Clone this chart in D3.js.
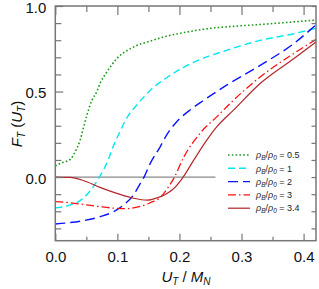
<!DOCTYPE html>
<html>
<head>
<meta charset="utf-8">
<script src="https://cdn.jsdelivr.net/npm/d3@7"></script>
<style>
  body { margin: 0; background: #fff; }
  svg { display: block; font-family: "Liberation Sans", Arial, Helvetica, sans-serif; }
</style>
</head>
<body>
<svg id="chart" width="319" height="289"></svg>
<script>
// curves, U_T/M_N -> F_T
const uGreen = [0, 0.008, 0.024, 0.032, 0.040, 0.045, 0.051, 0.059, 0.067, 0.072, 0.083, 0.099, 0.126, 0.153, 0.180, 0.212, 0.247, 0.290, 0.330, 0.380, 0.42];
const fGreen = [0.065, 0.08, 0.103, 0.148, 0.216, 0.284, 0.362, 0.449, 0.50, 0.547, 0.614, 0.692, 0.760, 0.795, 0.824, 0.848, 0.868, 0.882, 0.892, 0.906, 0.918];

const uCyan = [0, 0.024, 0.045, 0.061, 0.071, 0.085, 0.091, 0.104, 0.118, 0.131, 0.153, 0.180, 0.206, 0.233, 0.276, 0.330, 0.384, 0.42];
const fCyan = [-0.18, -0.163, -0.124, -0.057, 0.0, 0.099, 0.158, 0.264, 0.362, 0.42, 0.508, 0.582, 0.64, 0.687, 0.741, 0.799, 0.838, 0.87];

const uBlue = [0, 0.024, 0.045, 0.072, 0.094, 0.110, 0.126, 0.137, 0.143, 0.153, 0.169, 0.180, 0.196, 0.218, 0.239, 0.276, 0.330, 0.384, 0.42];
const fBlue = [-0.274, -0.266, -0.255, -0.232, -0.202, -0.163, -0.105, -0.037, 0.0, 0.08, 0.177, 0.25, 0.325, 0.395, 0.449, 0.537, 0.653, 0.78, 0.89];

const uRed = [0, 0.024, 0.045, 0.072, 0.099, 0.115, 0.126, 0.140, 0.153, 0.169, 0.180, 0.192, 0.206, 0.233, 0.260, 0.287, 0.330, 0.384, 0.42];
const fRed = [-0.144, -0.15, -0.16, -0.173, -0.183, -0.185, -0.18, -0.168, -0.15, -0.12, -0.07, 0.0, 0.11, 0.255, 0.352, 0.449, 0.585, 0.722, 0.805];

const uBrown = [0, 0.024, 0.045, 0.072, 0.099, 0.126, 0.148, 0.165, 0.178, 0.19, 0.206, 0.223, 0.244, 0.260, 0.287, 0.330, 0.384, 0.42];
const fBrown = [0.0, -0.002, -0.02, -0.06, -0.095, -0.124, -0.135, -0.12, -0.1, -0.07, 0.0, 0.099, 0.216, 0.293, 0.391, 0.547, 0.692, 0.79];

const ratios = ["0.5", "1", "2", "3", "3.4"];
const xTicks = [0, 0.1, 0.2, 0.3, 0.4];
const yTicks = [0, 0.5, 1.0];

const series = [
  {u: uGreen, f: fGreen, color: "#1f9a1f", width: 1.6, dash: "1.6,2.2"},
  {u: uCyan,  f: fCyan,  color: "#00e8f0", width: 1.4, dash: "7,4"},
  {u: uBlue,  f: fBlue,  color: "#0a14ff", width: 1.4, dash: "10,5"},
  {u: uRed,   f: fRed,   color: "#ff1010", width: 1.3, dash: "8,3,1.5,3"},
  {u: uBrown, f: fBrown, color: "#b4262a", width: 1.2, dash: null}
];

const svg = d3.select("#chart");
const pLeft = 55.3, pRight = 316, pTop = 6, pBottom = 240.7;
const axisColor = "#777";

const x = d3.scaleLinear().domain([0, 0.42]).range([pLeft, pRight]);
const y = d3.scaleLinear().domain([-0.372, 1.0]).range([pBottom, pTop]);

// zero line
svg.append("line")
  .attr("x1", x(0)).attr("x2", x(0.258))
  .attr("y1", y(0)).attr("y2", y(0))
  .attr("stroke", "#888").attr("stroke-width", 1.3);

// curves
const line = d3.line().x(d => x(d[0])).y(d => y(d[1])).curve(d3.curveMonotoneX);
series.forEach(s => {
  svg.append("path")
    .datum(s.u.map((u, i) => [u, s.f[i]]))
    .attr("d", line)
    .attr("fill", "none")
    .attr("stroke", s.color)
    .attr("stroke-width", s.width)
    .attr("stroke-dasharray", s.dash);
});

// axes helper: strip the domain path, color ticks
function styleAxis(g) {
  g.select(".domain").remove();
  g.selectAll("line").attr("stroke", axisColor).attr("stroke-width", 1.2);
  g.selectAll("text").attr("fill", "#111").style("font-size", "15px");
}

const minorX = d3.range(0, 0.42, 0.05).filter(v => Math.abs(v * 10 - Math.round(v * 10)) > 1e-6);
const minorY = d3.range(-0.3, 1.0, 0.1).map(v => +v.toFixed(1)).filter(v => v !== 0 && v !== 0.5);
const allY = d3.range(-0.3, 1.01, 0.1).map(v => +v.toFixed(1));

svg.append("g").attr("transform", `translate(0,${pBottom})`)
  .call(d3.axisBottom(x).tickValues(xTicks).tickSize(-7).tickPadding(10.6).tickFormat(d3.format(".1f")))
  .call(styleAxis);
svg.append("g").attr("transform", `translate(0,${pBottom})`)
  .call(d3.axisBottom(x).tickValues(minorX).tickSize(-4).tickFormat(""))
  .call(styleAxis);
svg.append("g").attr("transform", `translate(0,${pTop})`)
  .call(d3.axisTop(x).tickValues(xTicks).tickSize(-9).tickFormat(""))
  .call(styleAxis);
svg.append("g").attr("transform", `translate(0,${pTop})`)
  .call(d3.axisTop(x).tickValues(minorX).tickSize(-6).tickFormat(""))
  .call(styleAxis);

svg.append("g").attr("transform", `translate(${pLeft},0)`)
  .call(d3.axisLeft(y).tickValues(yTicks).tickSize(-8).tickPadding(9).tickFormat(d3.format(".1f")))
  .call(styleAxis)
  .call(g => g.selectAll("text").attr("dy", "0.42em"));
svg.append("g").attr("transform", `translate(${pLeft},0)`)
  .call(d3.axisLeft(y).tickValues(minorY).tickSize(-6).tickFormat(""))
  .call(styleAxis);
svg.append("g").attr("transform", `translate(${pRight},0)`)
  .call(d3.axisRight(y).tickValues(allY).tickSize(-4.5).tickFormat(""))
  .call(styleAxis);

// frame
svg.append("rect")
  .attr("x", pLeft).attr("y", pTop)
  .attr("width", pRight - pLeft).attr("height", pBottom - pTop)
  .attr("fill", "none").attr("stroke", axisColor).attr("stroke-width", 1.5);

// axis titles
const xt = svg.append("text")
  .attr("x", 186).attr("y", 282)
  .attr("text-anchor", "middle")
  .style("font-size", "15px").attr("fill", "#111");
xt.append("tspan").style("font-style", "italic").text("U");
xt.append("tspan").style("font-style", "italic").style("font-size", "10px").attr("dy", 3).text("T");
xt.append("tspan").attr("dy", -3).text(" / ");
xt.append("tspan").style("font-style", "italic").text("M");
xt.append("tspan").style("font-style", "italic").style("font-size", "10px").attr("dy", 3).text("N");

const yt = svg.append("text")
  .attr("transform", "translate(22,124) rotate(-90)")
  .attr("text-anchor", "middle")
  .style("font-size", "15px").attr("fill", "#111");
yt.append("tspan").style("font-style", "italic").text("F");
yt.append("tspan").style("font-style", "italic").style("font-size", "10px").attr("dy", 3).text("T");
yt.append("tspan").attr("dy", -3).text(" (");
yt.append("tspan").style("font-style", "italic").text("U");
yt.append("tspan").style("font-style", "italic").style("font-size", "10px").attr("dy", 3).text("T");
yt.append("tspan").attr("dy", -3).text(")");

// legend
const leg = svg.append("g");
series.forEach((s, i) => {
  const ly = 155 + i * 13.3;
  leg.append("line")
    .attr("x1", 228).attr("x2", 250).attr("y1", ly).attr("y2", ly)
    .attr("stroke", s.color).attr("stroke-width", s.width)
    .attr("stroke-dasharray", s.dash);
  const t = leg.append("text").attr("x", 256).attr("y", ly + 3.2)
    .style("font-size", "9px").attr("fill", "#222");
  t.append("tspan").style("font-style", "italic").text("ρ");
  t.append("tspan").style("font-style", "italic").style("font-size", "6.5px").attr("dy", 2).text("B");
  t.append("tspan").attr("dy", -2).text("/");
  t.append("tspan").style("font-style", "italic").text("ρ");
  t.append("tspan").style("font-style", "italic").style("font-size", "6.5px").attr("dy", 2).text("0");
  t.append("tspan").attr("dy", -2).text(" = " + ratios[i]);
});
</script>
</body>
</html>
